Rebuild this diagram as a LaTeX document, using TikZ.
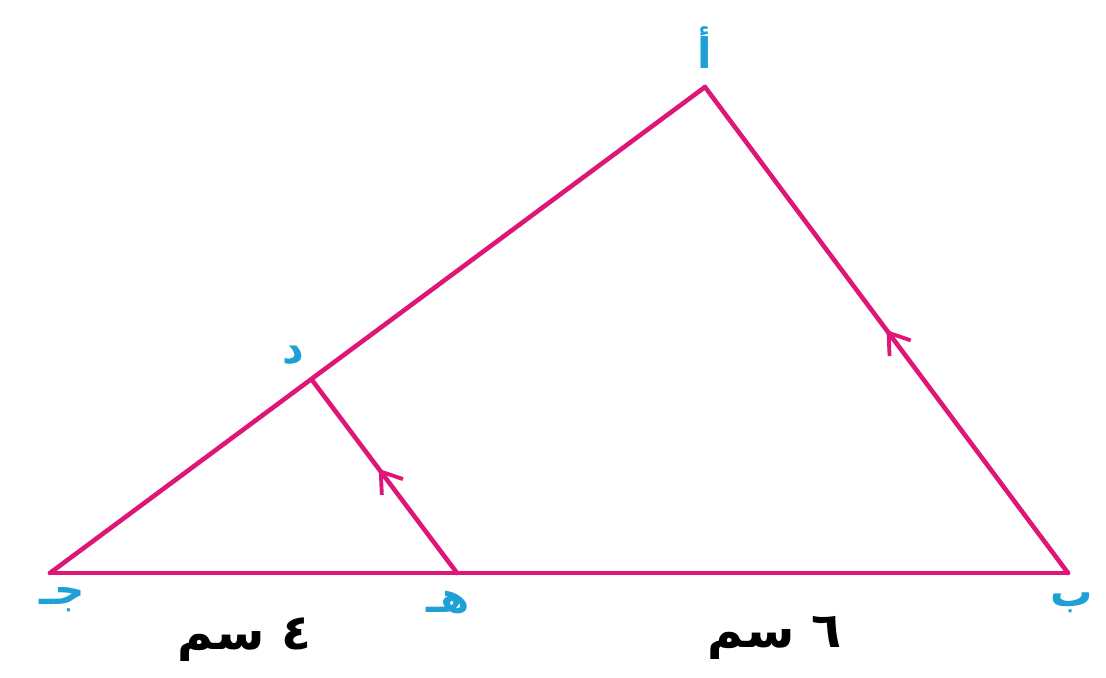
\documentclass[tikz,border=0pt]{standalone}
\usepackage{fontspec}
\usetikzlibrary{arrows.meta,decorations.markings}
\newfontfamily\arabicfont[Script=Arabic]{DejaVu Sans}
\TeXXeTstate=1
\definecolor{sidepink}{RGB}{222,22,120}
\definecolor{ptblue}{RGB}{30,160,215}

\begin{document}
\begin{tikzpicture}[x=0.02cm, y=-0.02cm, line width=2.6pt,
    side/.style={draw=sidepink, line cap=round, line join=miter},
    midarrow/.style={postaction={decorate}, decoration={markings,
        mark=at position #1 with {\arrow{Straight Barb[length=11pt, width=15pt, line width=2.2pt]}}}},
    ptlabel/.style={text=ptblue, font=\arabicfont\bfseries\fontsize{24}{26}\selectfont},
    lenlabel/.style={text=black, font=\arabicfont\bfseries\fontsize{28}{30}\selectfont}]
    \useasboundingbox (0,0) rectangle (1106,677);
    % Vertices
    \coordinate (A) at (705,87);
    \coordinate (B) at (1068,573);
    \coordinate (C) at (50,573);
    \coordinate (D) at (312,380);
    \coordinate (E) at (457,573);
    % Triangle
    \draw[side] (C) -- (B);
    \draw[side] (C) -- (A);
    \draw[side, midarrow=0.5, sidepink] (B) -- (A);
    % Parallel segment
    \draw[side, midarrow=0.54, sidepink] (E) -- (D);
    % Point labels
    \node[ptlabel] (lA) at (705,48) {\beginR أ\endR};
    \node[ptlabel] (lB) at (1072,603) {\beginR ب\endR};
    \node[ptlabel] (lC) at (62,600) {\beginR جـ\endR};
    \node[ptlabel] (lD) at (293,355) {\beginR د\endR};
    \node[ptlabel] (lE) at (448,603) {\beginR هـ\endR};
    % Lengths
    \node[lenlabel] (lCE) at (245,640) {\beginR ٤ سم\endR};
    \node[lenlabel] (lEB) at (775,638) {\beginR ٦ سم\endR};
\end{tikzpicture}
\end{document}
